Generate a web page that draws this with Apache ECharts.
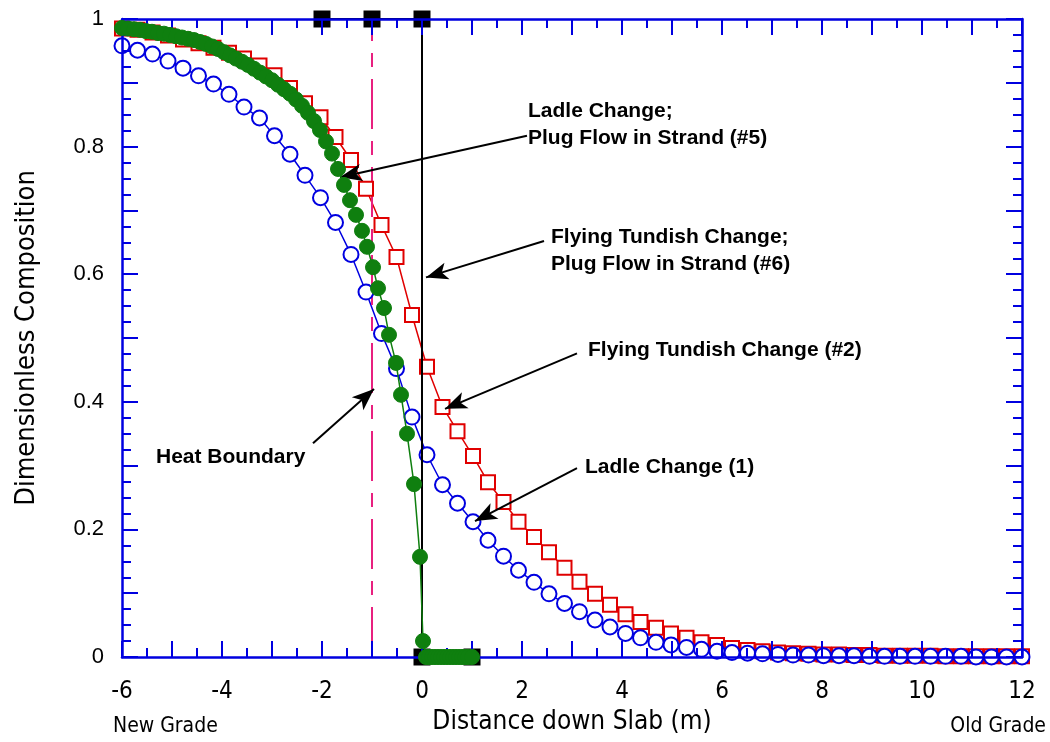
<!DOCTYPE html>
<html>
<head>
<meta charset="utf-8">
<script src="https://cdn.jsdelivr.net/npm/echarts@6/dist/echarts.min.js"></script>
<style>
  html, body { margin: 0; padding: 0; background: #fff; }
  #chart { width: 1050px; height: 742px; }
</style>
</head>
<body>
<div id="chart"></div>
<script>
// distance down slab (m) for the ladle / tundish curves
const slabX = [
  -6.00, -5.69, -5.39, -5.08, -4.78, -4.47, -4.17, -3.86, -3.56, -3.25,
  -2.95, -2.64, -2.34, -2.03, -1.73, -1.42, -1.12, -0.81, -0.51, -0.20,
  0.10, 0.41, 0.71, 1.02, 1.32, 1.63, 1.93, 2.24, 2.54, 2.85,
  3.15, 3.46, 3.76, 4.07, 4.37, 4.68, 4.98, 5.29, 5.59, 5.90,
  6.20, 6.51, 6.81, 7.12, 7.42, 7.73, 8.03, 8.34, 8.64, 8.95,
  9.25, 9.56, 9.86, 10.17, 10.47, 10.78, 11.08, 11.39, 11.69, 12.00
];
// Ladle Change (1)
const ladleY = [
  0.958, 0.951, 0.945, 0.934, 0.923, 0.911, 0.898, 0.882, 0.862, 0.845,
  0.817, 0.788, 0.755, 0.720, 0.681, 0.631, 0.572, 0.507, 0.452, 0.376,
  0.317, 0.270, 0.241, 0.212, 0.183, 0.158, 0.136, 0.117, 0.099, 0.084,
  0.071, 0.058, 0.047, 0.037, 0.030, 0.023, 0.019, 0.015, 0.012, 0.009,
  0.007, 0.006, 0.005, 0.004, 0.003, 0.003, 0.002, 0.002, 0.002, 0.001,
  0.001, 0.001, 0.001, 0.001, 0.001, 0.001, 0.000, 0.000, 0.000, 0.000
];
// Flying Tundish Change (#2)
const tundishY = [
  0.985, 0.983, 0.979, 0.974, 0.968, 0.962, 0.955, 0.947, 0.938, 0.927,
  0.912, 0.892, 0.868, 0.846, 0.815, 0.779, 0.734, 0.677, 0.627, 0.536,
  0.455, 0.392, 0.354, 0.315, 0.274, 0.243, 0.212, 0.188, 0.164, 0.140,
  0.118, 0.099, 0.082, 0.067, 0.055, 0.046, 0.037, 0.030, 0.023, 0.019,
  0.014, 0.011, 0.009, 0.007, 0.006, 0.005, 0.004, 0.004, 0.003, 0.003,
  0.002, 0.002, 0.002, 0.002, 0.001, 0.001, 0.001, 0.001, 0.001, 0.001
];
// Ladle Change; Plug Flow in Strand (#5)
const plugX = [
  -6.00, -5.88, -5.76, -5.64, -5.52, -5.40, -5.28, -5.16, -5.04, -4.92,
  -4.80, -4.68, -4.56, -4.44, -4.32, -4.20, -4.08, -3.96, -3.84, -3.72,
  -3.60, -3.48, -3.36, -3.24, -3.12, -3.00, -2.88, -2.76, -2.64, -2.52,
  -2.40, -2.28, -2.16, -2.04, -1.92, -1.80, -1.68, -1.56, -1.44, -1.32,
  -1.20, -1.10, -0.98, -0.88, -0.76, -0.66, -0.52, -0.42, -0.30, -0.16,
  -0.04, 0.02, 0.08, 0.14, 0.20, 0.26, 0.32, 0.38, 0.44, 0.50,
  0.56, 0.62, 0.68, 0.74, 0.80, 0.86, 0.92, 1.00
];
const plugY = [
  0.986, 0.985, 0.984, 0.983, 0.981, 0.980, 0.978, 0.977, 0.975, 0.973,
  0.971, 0.969, 0.967, 0.964, 0.961, 0.957, 0.953, 0.948, 0.943, 0.938,
  0.933, 0.928, 0.922, 0.916, 0.910, 0.904, 0.897, 0.890, 0.883, 0.874,
  0.864, 0.853, 0.840, 0.826, 0.808, 0.789, 0.765, 0.740, 0.716, 0.693,
  0.668, 0.643, 0.611, 0.578, 0.547, 0.505, 0.461, 0.411, 0.350, 0.271,
  0.157, 0.025, 0, 0, 0, 0, 0, 0, 0, 0,
  0, 0, 0, 0, 0, 0, 0, 0
];
// Flying Tundish Change; Plug Flow in Strand (#6)
const flyPlugX = [-2, -1, 0, 0, 1];
const flyPlugY = [1, 1, 1, 0, 0];
// heat boundary
const heatX = [-1, -1];
const heatY = [0, 1];

const notes = [
  { text: 'Ladle Change;\nPlug Flow in Strand (#5)', at: [2.12, 0.835], from: [2.10, 0.817], to: [-1.64, 0.752] },
  { text: 'Flying Tundish Change;\nPlug Flow in Strand (#6)', at: [2.58, 0.637], from: [2.44, 0.652], to: [0.08, 0.595] },
  { text: 'Flying Tundish Change (#2)', at: [3.32, 0.481], from: [3.10, 0.476], to: [0.46, 0.389] },
  { text: 'Heat Boundary', at: [-5.32, 0.313], from: [-2.18, 0.335], to: [-0.96, 0.420] },
  { text: 'Ladle Change (1)', at: [3.26, 0.298], from: [3.10, 0.296], to: [1.06, 0.213] }
];

const zip = (xs, ys) => xs.map((x, i) => [x, ys[i]]);

const AXIS_BLUE = '#0000e0';
const narrow = "'Liberation Sans Narrow', 'DejaVu Sans Condensed', sans-serif";
const sans = "'Liberation Sans', Arial, sans-serif";

const chart = echarts.init(document.getElementById('chart'));

const xBase = {
  type: 'value', min: -6, max: 12, interval: 1, z: 5,
  axisLine: { show: true, onZero: false, lineStyle: { color: AXIS_BLUE, width: 2.5 } },
  axisTick: { show: true, inside: true, length: 16, lineStyle: { color: AXIS_BLUE, width: 2 } },
  minorTick: { show: true, splitNumber: 2, length: 9, lineStyle: { color: AXIS_BLUE, width: 2 } },
  splitLine: { show: false }
};
const yBase = {
  type: 'value', min: 0, max: 1, interval: 0.1, z: 5,
  axisLine: { show: true, onZero: false, lineStyle: { color: AXIS_BLUE, width: 2.5 } },
  axisTick: { show: true, inside: true, length: 16, lineStyle: { color: AXIS_BLUE, width: 2 } },
  minorTick: { show: true, splitNumber: 4, length: 9, lineStyle: { color: AXIS_BLUE, width: 2 } },
  splitLine: { show: false }
};

const option = {
  animation: false,
  backgroundColor: '#fff',
  grid: { left: 122, right: 28, top: 19, bottom: 85, containLabel: false },
  xAxis: [
    Object.assign({}, xBase, {
      position: 'bottom',
      name: 'Distance down Slab (m)',
      nameLocation: 'middle',
      nameGap: 47,
      nameTextStyle: { fontFamily: narrow, fontSize: 26, color: '#000' },
      axisLabel: {
        margin: 23, fontFamily: narrow, fontSize: 24, color: '#000',
        formatter: v => (v % 2 === 0 ? String(v) : '')
      }
    }),
    Object.assign({}, xBase, { position: 'top', axisLabel: { show: false } })
  ],
  yAxis: [
    Object.assign({}, yBase, {
      position: 'left',
      name: 'Dimensionless Composition',
      nameLocation: 'middle',
      nameGap: 82,
      nameTextStyle: { fontFamily: narrow, fontSize: 27, color: '#000' },
      axisLabel: {
        margin: 18, fontFamily: sans, fontSize: 22, color: '#000',
        formatter: v => (Math.round(v * 10) % 2 === 0 ? String(+v.toFixed(1)) : '')
      }
    }),
    Object.assign({}, yBase, { position: 'right', axisLabel: { show: false } })
  ],
  graphic: [
    { id: 'newGrade', type: 'text', left: 113, top: 716, style: { text: 'New Grade', font: '21px ' + narrow, fill: '#000' } },
    { id: 'oldGrade', type: 'text', right: 4, top: 716, style: { text: 'Old Grade', font: '21px ' + narrow, fill: '#000' } }
  ],
  series: [
    {
      name: 'Flying Tundish Change (#2)', type: 'line', data: zip(slabX, tundishY),
      symbol: 'rect', symbolSize: 14,
      lineStyle: { color: '#e00000', width: 1.5 },
      itemStyle: { color: '#fff', borderColor: '#e00000', borderWidth: 2 }
    },
    {
      name: 'Ladle Change (1)', type: 'line', data: zip(slabX, ladleY),
      symbol: 'circle', symbolSize: 15,
      lineStyle: { color: '#0000e0', width: 1.5 },
      itemStyle: { color: '#fff', borderColor: '#0000e0', borderWidth: 2 }
    },
    {
      name: 'Heat Boundary', type: 'line', data: zip(heatX, heatY), symbol: 'none',
      lineStyle: { color: '#e8207f', width: 2, type: [50, 12, 14, 12] }
    },
    {
      name: 'Flying Tundish Change; Plug Flow in Strand (#6)', type: 'line', data: zip(flyPlugX, flyPlugY),
      symbol: 'rect', symbolSize: 17, z: 4,
      lineStyle: { color: '#000', width: 2 },
      itemStyle: { color: '#000' }
    },
    {
      name: 'Ladle Change; Plug Flow in Strand (#5)', type: 'line', data: zip(plugX, plugY),
      symbol: 'circle', symbolSize: 15, z: 6,
      lineStyle: { color: '#0f7f0f', width: 1.5 },
      itemStyle: { color: '#0f7f0f', borderColor: '#0f7f0f', borderWidth: 1 }
    },
    {
      // annotation arrows
      name: 'arrows', type: 'line', data: [], z: 10,
      markLine: {
        silent: true, animation: false,
        symbol: ['none', 'arrow'], symbolSize: [13, 22],
        label: { show: false },
        lineStyle: { color: '#000', width: 2, type: 'solid' },
        data: notes.map(n => [{ coord: n.from }, { coord: n.to }])
      }
    }
  ]
};

chart.setOption(option);

// annotation texts, placed through the axes' scales
chart.setOption({
  graphic: notes.map((n, i) => {
    const p = chart.convertToPixel({ gridIndex: 0 }, n.at);
    return {
      id: 'note' + i, type: 'text', x: p[0], y: p[1], z: 20,
      style: {
        text: n.text, fill: '#000', font: 'bold 21px ' + sans,
        lineHeight: 27, align: 'left', verticalAlign: 'middle'
      }
    };
  })
});
</script>
</body>
</html>
